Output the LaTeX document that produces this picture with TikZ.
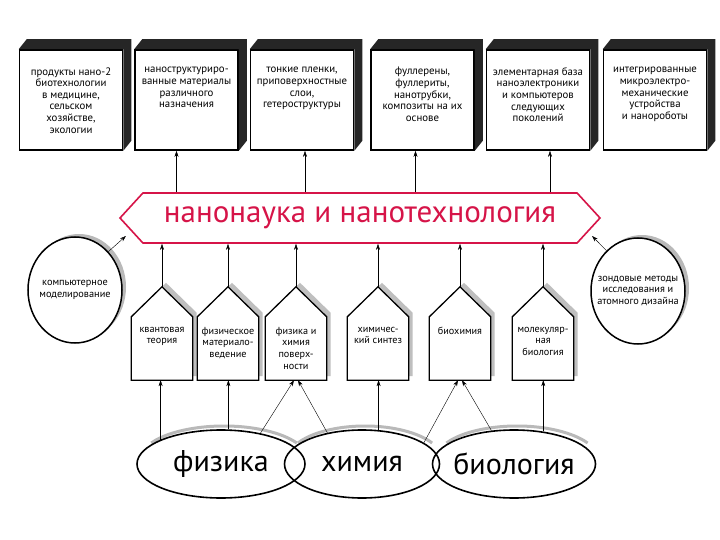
\documentclass[tikz,border=0pt]{standalone}
\usepackage{fontspec}
\setmainfont{PT Sans}
\usetikzlibrary{positioning}
\usetikzlibrary{calc}
\usetikzlibrary{arrows.meta}
\usetikzlibrary{shapes.geometric}
\usetikzlibrary{shapes.symbols}
\usetikzlibrary{shadows}
\usetikzlibrary{backgrounds}
\definecolor{nanored}{RGB}{214,20,72}

\begin{document}
\begin{tikzpicture}[x=1pt, y=-1pt,
    arr/.style={-{Stealth[length=6pt, width=4pt]}, thin},
    topbox/.style={draw, line width=1.6pt, fill=white, minimum width=103pt, minimum height=100pt, inner sep=0pt},
    boxtext/.style={align=center, inner sep=0pt, font=\fontsize{10.8}{11.6}\selectfont},
    house/.style={minimum width=61pt, minimum height=63pt, inner sep=0pt},
    housetext/.style={align=center, inner sep=0pt, font=\fontsize{10.2}{11.7}\selectfont},
    roundbox/.style={ellipse, draw, line width=1.5pt, fill=white, minimum width=94pt, minimum height=106pt, inner sep=0pt, drop shadow={shadow xshift=4pt, shadow yshift=3pt, fill=gray!55, opacity=1}},
    roundtext/.style={align=center, inner sep=0pt, font=\fontsize{10.3}{11.7}\selectfont},
    field/.style={ellipse, draw, line width=1.6pt, minimum height=68pt, inner ysep=0pt, inner xsep=-14pt, font=\fontsize{30}{30}\selectfont},
]
    \useasboundingbox (0,0) rectangle (720,540);

    % upper row
    \node[topbox] (b1) at (71,100) {};
    \node[topbox] (b2) at (186.5,100) {};
    \node[topbox] (b3) at (302,100) {};
    \node[topbox] (b4) at (422.5,100) {};
    \node[topbox] (b5) at (538,100) {};
    \node[topbox] (b6) at (655,100) {};

    \node[boxtext, below=18pt of b1.north] {продукты нано-2\\биотехнологии\\в медицине,\\сельском\\хозяйстве,\\экологии};
    \node[boxtext, below=18pt of b2.north] {наноструктуриро-\\ванные материалы\\различного\\назначения};
    \node[boxtext, below=18pt of b3.north] {тонкие пленки,\\приповерхностные\\слои,\\гетероструктуры};
    \node[boxtext, below=18pt of b4.north] {фуллерены,\\фуллериты,\\нанотрубки,\\композиты на их\\основе};
    \node[boxtext, below=18pt of b5.north] {элементарная база\\наноэлектроники\\и компьютеров\\следующих\\поколений};
    \node[boxtext, below=18pt of b6.north] {интегрированные\\микроэлектро-\\механические\\устройства\\и нанороботы};

    \foreach \i in {1,...,6}
        \fill[black!85] (b\i.north west) -- ++(8,-10) -- ([shift={(8pt,10pt)}]b\i.north east)
            -- ([shift={(8pt,10pt)}]b\i.south east) -- (b\i.south east) -- (b\i.north east) -- cycle;

    % banner
    \node[signal, signal to=west and east, signal pointer angle=95, draw=nanored, line width=1.6pt,
        fill=white, minimum width=480pt, minimum height=50pt, inner sep=0pt, text=nanored,
        font=\fontsize{31}{31}\selectfont] (bn) at (360,218) {нанонаука и нанотехнология};

    % side methods
    \node[roundbox] (cl) at (75,290) {};
    \node[roundbox] (cr) at (638,291) {};
    \node[roundtext] at (cl.center) {компьютерное\\моделирование};
    \node[roundtext] at (cr.center) {зондовые методы\\исследования и\\атомного дизайна};

    % disciplines
    \node[house] (p1) at (162,348.5) {};
    \node[house] (p2) at (228,348.5) {};
    \node[house] (p3) at (296,348.5) {};
    \node[house] (p4) at (378,348.5) {};
    \node[house] (p5) at (460,348.5) {};
    \node[house] (p6) at (543,348.5) {};

    \node[housetext, below=10pt of p1.north] {квантовая\\теория};
    \node[housetext, below=10pt of p2.north] {физическое\\материало-\\ведение};
    \node[housetext, below=10pt of p3.north] {физика и\\химия\\поверх-\\ности};
    \node[housetext, below=10pt of p4.north] {химичес-\\кий синтез};
    \node[housetext, below=10pt of p5.north] {биохимия};
    \node[housetext, below=10pt of p6.north] {молекуляр-\\ная\\биология};

    % sciences
    \node[field, minimum width=168pt] (e1) at (221,464) {физика};
    \node[field, minimum width=155pt] (e2) at (362,464) {химия};
    \node[field, minimum width=163pt] (e3) at (514,464) {биология};

    \begin{scope}[on background layer]
        \fill[white] (0,0) rectangle (720,540);
        \foreach \i in {1,...,6}{
            \coordinate (t\i) at ([yshift=30pt]p\i.north);
            \fill[gray!50, transform canvas={shift={(4pt,4pt)}}] (p\i.south west) -- (p\i.north west)
                -- (t\i) -- (p\i.north east) -- (p\i.south east) -- cycle;
            \draw[line width=1.3pt, fill=white] (p\i.south west) -- (p\i.north west)
                -- (t\i) -- (p\i.north east) -- (p\i.south east) -- cycle;
        }
        \foreach \e/\r in {e1/84, e2/77.5, e3/81.5}
            \draw[gray!55, line width=3pt] ($(\e.center)+(3pt,4pt)+(150:\r pt and 34pt)$)
                arc[start angle=150, end angle=30, x radius=\r pt, y radius=34pt];
    \end{scope}

    % banner to products
    \draw[arr] ($(bn.north -| b2.south)+(-10,0)$) -- ($(b2.south)+(-10,0)$);
    \draw[arr] ($(bn.north -| b3.south)+(3,0)$) -- ($(b3.south)+(3,0)$);
    \draw[arr] ($(bn.north -| b4.south)+(-7,0)$) -- ($(b4.south)+(-7,0)$);
    \draw[arr] ($(bn.north -| b5.south)+(12,0)$) -- ($(b5.south)+(12,0)$);

    % disciplines to banner
    \foreach \i in {1,...,6}
        \draw[arr] (t\i) -- (t\i |- bn.south);

    \draw[arr] (cl.49) -- ($(bn.west)+(7,18)$);
    \draw[arr] (cr.128) -- ($(bn.east)+(-9,18)$);

    % sciences to disciplines
    \draw[arr] (e1.158) -- (e1.158 |- p1.south);
    \draw[arr] (e1.78) -- (e1.78 |- p2.south);
    \draw[arr] (e1.38) -- ($(p3.south)+(-2,0)$);
    \draw[arr] (e2.138) -- ($(p3.south)+(2,0)$);
    \draw[arr] (e2.64) -- (e2.64 |- p4.south);
    \draw[arr] (e2.19) -- ($(p5.south)+(-2,0)$);
    \draw[arr] (e3.124) -- ($(p5.south)+(2,0)$);
    \draw[arr] (e3.48) -- (e3.48 |- p6.south);
\end{tikzpicture}
\end{document}
